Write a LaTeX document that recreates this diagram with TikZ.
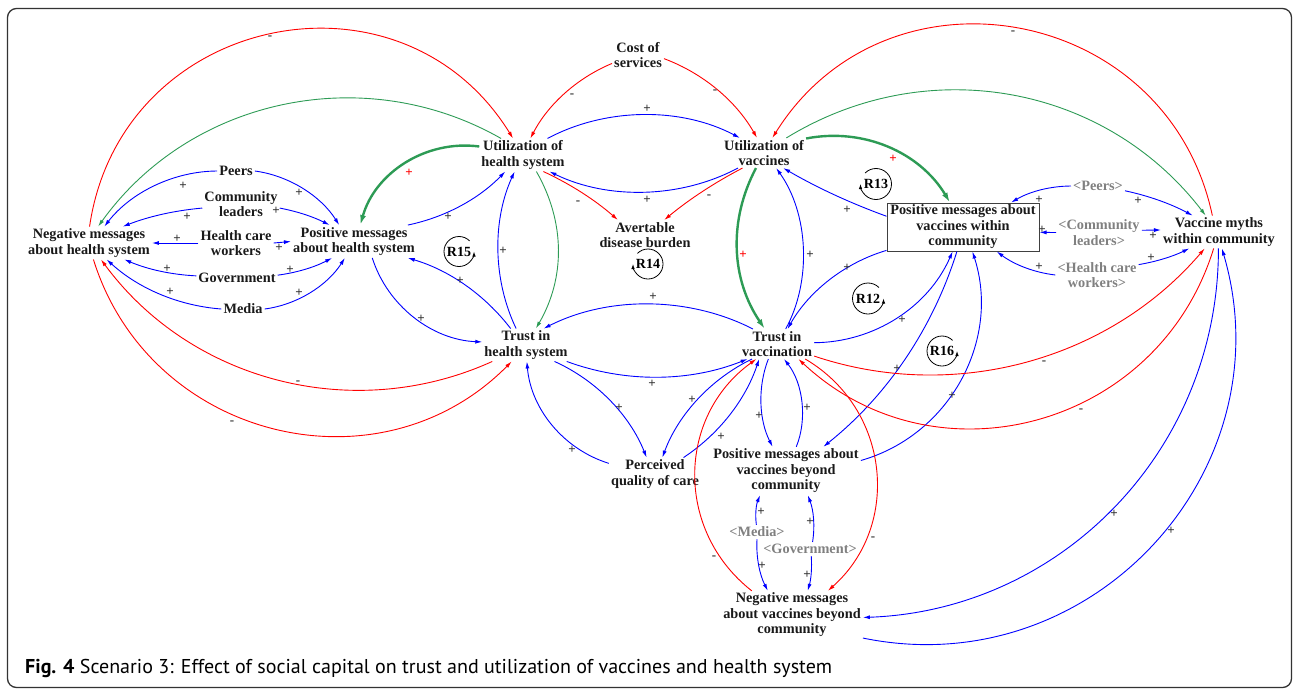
\documentclass[tikz,border=0pt]{standalone}
\usepackage{fontspec}
\usepackage{graphicx}
\setmainfont{Liberation Serif}
\newfontfamily\capfont{PT Sans}
\usetikzlibrary{arrows.meta}
\definecolor{cblue}{RGB}{0,0,255}
\definecolor{cred}{RGB}{255,0,0}
\definecolor{cgreen}{RGB}{45,155,85}
\definecolor{cgray}{RGB}{128,128,128}
\tikzset{
  var/.style={font=\bfseries\fontsize{14.3}{15.5}\selectfont, align=center, inner sep=2pt, text=black!90},
  gvar/.style={var, text=cgray},
  boxvar/.style={var, draw=black!75, line width=1pt, minimum width=152pt, minimum height=47pt},
  sg/.style={font=\bfseries\fontsize{13}{13}\selectfont, text=black!80, inner sep=0pt},
  rsg/.style={sg, text=cred},
  rlab/.style={font=\bfseries\fontsize{14}{14}\selectfont, inner sep=0pt},
  bl/.style={cblue, line width=0.9pt, -{Latex[length=7pt,width=4pt]}, looseness=0.88},
  rd/.style={cred, line width=0.9pt, -{Latex[length=7pt,width=4pt]}, looseness=0.88},
  gr/.style={cgreen, line width=0.9pt, -{Latex[length=7pt,width=4pt]}, looseness=0.95},
  grt/.style={cgreen, line width=2.4pt, -{Latex[length=10pt,width=6pt]}, looseness=0.95},
  loopar/.style={black, line width=0.8pt, -{Latex[length=5pt,width=3.5pt]}},
}
\begin{document}
\begin{tikzpicture}[x=1pt,y=1pt]
\useasboundingbox (0,0) rectangle (1295,-689);
\draw[line width=1.3pt, black!80, rounded corners=9pt] (7.5,-8.5) rectangle (1291.5,-687.5);

% nodes
\node[var] (negHS) at (89,-243) {Negative messages\\about health system};
\node[var] (posHS) at (354,-241.5) {Positive messages\\about health system};
\node[var] (peers) at (236,-171) {Peers};
\node[var] (comm) at (241,-204) {Community\\leaders};
\node[var] (hcw) at (236,-243) {Health care\\workers};
\node[var] (gov) at (237,-278) {Government};
\node[var] (media) at (243,-309) {Media};
\node[var] (uhs) at (523,-155) {Utilization of\\health system};
\node[var] (cost) at (638,-55) {Cost of\\services};
\node[var] (uv) at (764,-153) {Utilization of\\vaccines};
\node[var] (adb) at (645,-235) {Avertable\\disease burden};
\node[var] (ths) at (526,-345) {Trust in\\health system};
\node[var] (tv) at (777,-344) {Trust in\\vaccination};
\node[var] (pqc) at (655,-474) {Perceived\\quality of care};
\node[var] (posvb) at (786,-471) {Positive messages about\\vaccines beyond\\community};
\node[var] (negvb) at (792,-615) {Negative messages\\about vaccines beyond\\community};
\node[boxvar] (posvc) at (963,-227) {Positive messages about\\vaccines within\\community};
\node[gvar] (gpeers) at (1098,-186) {<Peers>};
\node[gvar] (gcomm) at (1099,-232.5) {<Community\\leaders>};
\node[gvar] (ghcw) at (1097,-275) {<Health care\\workers>};
\node[var] (vm) at (1219,-232) {Vaccine myths\\within community};
\node[gvar] (gmedia) at (757,-532) {<Media>};
\node[gvar] (ggov) at (810,-549) {<Government>};

% left cluster
\draw[bl] (peers.180) to[bend right=26] (negHS.47);
\draw[bl] (peers.0) to[bend left=25] (posHS.132);
\draw[bl] (comm.186) to[bend right=8] (negHS.26);
\draw[bl] (comm.-6) to[bend left=8] (posHS.146);
\draw[bl] (hcw.180) -- (negHS.0);
\draw[bl] (hcw.0) -- (posHS.180);
\draw[bl] (gov.177) to[bend left=10] (negHS.-25);
\draw[bl] (gov.4) to[bend right=10] (posHS.217);
\draw[bl] (media.180) to[bend left=19] (negHS.-43);
\draw[bl] (media.0) to[bend right=25] (posHS.241);

% big left arcs
\draw[rd] (negHS.88) to[bend left=70, looseness=1.27] (uhs.121);
\draw[gr] (uhs.143) to[bend right=42, looseness=0.98] (negHS.61);
\draw[grt] (uhs.169) to[bend right=41, looseness=0.97] (posHS.69);
\draw[bl] (posHS.17) to[bend right=17] (uhs.223);
\draw[bl] (ths.133) to[bend right=18] (posHS.-17);
\draw[bl] (posHS.-42) to[bend right=35, looseness=0.93] (ths.176);
\draw[bl] (ths.121) to[bend left=25] (uhs.243);
\draw[gr] (uhs.-51) to[bend left=30] (ths.59);
\draw[rd] (ths.206) to[bend left=39, looseness=0.96] (negHS.-54);
\draw[rd] (negHS.-75) to[bend right=59, looseness=1.12] (ths.229);

% centre
\draw[rd] (cost.198) to[bend right=20] (uhs.66);
\draw[rd] (cost.-8) to[bend left=20] (uv.115);
\draw[bl] (uhs.34) to[bend left=28] (uv.148);
\draw[bl] (uv.210) to[bend left=27] (uhs.-32);
\draw[rd] (uhs.-39) to[bend left=8] (adb.151);
\draw[rd] (uv.215) to[bend right=6] (adb.38);
\draw[grt] (uv.242) to[bend right=31] (tv.129);
\draw[bl] (tv.60) to[bend right=32] (uv.-51);

% right
\draw[grt] (uv.19) to[bend left=35] (posvc.118);
\draw[bl] (posvc.172) to[bend left=5] (uv.-38);
\draw[bl] (posvc.197) to[bend right=22] (tv.55);
\draw[bl] (tv.2) to[bend right=33, looseness=0.93] (posvc.247);
\draw[bl] (posvc.256) to[bend left=17] (posvb.33);
\draw[bl] (posvb.8) to[bend right=46, looseness=1.0] (posvc.-69);
\draw[bl] (gpeers.180) to[bend right=15] (posvc.27);
\draw[bl] (gpeers.-10) to[bend left=8] (vm.148);
\draw[bl] (gcomm.180) -- (posvc.-4);
\draw[bl] (gcomm.3) -- (vm.178);
\draw[bl] (ghcw.180) to[bend left=15] (posvc.-36);
\draw[bl] (ghcw.14) to[bend right=8] (vm.209);
\draw[rd] (vm.112) to[bend right=68, looseness=1.24] (uv.61);
\draw[gr] (uv.34) to[bend left=42, looseness=0.99] (vm.129);
\draw[rd] (tv.-18) to[bend right=34, looseness=0.93] (vm.229);
\draw[rd] (vm.-108) to[bend left=58, looseness=1.12] (tv.-35);
\draw[bl] (vm.-92) to[bend left=44, looseness=1.0] (negvb.-2);
\draw[bl] (negvb.-18) to[bend right=59, looseness=1.12] (vm.-80);

% lower centre
\draw[bl] (ths.-22) to[bend right=21] (tv.207);
\draw[bl] (tv.148) to[bend right=27] (ths.43);
\draw[bl] (ths.-30) to[bend left=22] (pqc.117);
\draw[bl] (pqc.167) to[bend left=34, looseness=0.93] (ths.-87);
\draw[bl] (tv.211) to[bend right=22] (pqc.66);
\draw[bl] (pqc.30) to[bend right=19] (tv.220);
\draw[bl] (tv.240) to[bend right=24] (posvb.119);
\draw[bl] (posvb.67) to[bend right=30] (tv.-65);
\draw[rd] (negvb.149) to[bend left=53, looseness=1.08] (tv.216);
\draw[rd] (tv.-28) to[bend left=54, looseness=1.08] (negvb.34);
\draw[bl] (gmedia.95) to[bend left=15] (posvb.223);
\draw[bl] (gmedia.-90) to[bend right=15] (negvb.135);
\draw[bl] (ggov.70) to[bend right=15] (posvb.-48);
\draw[bl] (ggov.-80) to[bend left=10] (negvb.57);

% loop markers
\node[rlab] (r13) at (876,-184) {R13};
\draw[loopar] (r13.center) ++(135:15.5) arc[start angle=135, end angle=-180, radius=15.5];
\node[rlab] (r14) at (648,-264) {R14};
\draw[loopar] (r14.center) ++(135:15) arc[start angle=135, end angle=-180, radius=15];
\node[rlab] (r15) at (459,-251.5) {R15};
\draw[loopar] (r15.center) ++(45:15) arc[start angle=45, end angle=360, radius=15];
\node[rlab] (r12) at (868,-298.5) {R12};
\draw[loopar] (r12.center) ++(45:15.5) arc[start angle=45, end angle=360, radius=15.5];
\node[rlab] (r16) at (942,-351) {R16};
\draw[loopar] (r16.center) ++(45:15) arc[start angle=45, end angle=360, radius=15];

% polarity signs
\node[sg] (s1) at (183,-186) {+};
\node[sg] (s2) at (299,-193) {+};
\node[sg] (s3) at (187,-217) {+};
\node[sg] (s4) at (276,-211) {+};
\node[sg] (s5) at (177,-239) {+};
\node[sg] (s6) at (279,-248) {+};
\node[sg] (s7) at (167,-269) {+};
\node[sg] (s8) at (290,-270) {+};
\node[sg] (s9) at (170,-292) {+};
\node[sg] (s10) at (299,-293) {+};
\node[sg] (s11) at (270,-38) {-};
\node[rsg] (s13) at (409,-173) {+};
\node[sg] (s14) at (448,-217) {+};
\node[sg] (s15) at (460,-281) {+};
\node[sg] (s16) at (421,-319) {+};
\node[sg] (s17) at (503,-251) {+};
\node[sg] (s19a) at (298,-383) {-};
\node[sg] (s19b) at (232,-423) {-};
\node[sg] (s20) at (572,-96) {-};
\node[sg] (s21) at (715,-92) {-};
\node[sg] (s22) at (647,-109) {+};
\node[sg] (s23) at (647,-200) {+};
\node[sg] (s24) at (578,-203) {-};
\node[sg] (s25) at (709,-197) {-};
\node[rsg] (s26) at (743,-255) {+};
\node[sg] (s27) at (810,-255) {+};
\node[rsg] (s28) at (893,-159) {+};
\node[sg] (s29) at (847,-210) {+};
\node[sg] (s30) at (847,-268) {+};
\node[sg] (s31) at (902,-320) {+};
\node[sg] (s32) at (897,-369) {+};
\node[sg] (s33) at (952,-396) {+};
\node[sg] (s34) at (1039,-200) {+};
\node[sg] (s35) at (1138,-201) {+};
\node[sg] (s36) at (1042,-230) {+};
\node[sg] (s37) at (1153,-236) {+};
\node[sg] (s38) at (1039,-267) {+};
\node[sg] (s39) at (1151,-258) {+};
\node[sg] (s40) at (1013,-33) {-};
\node[sg] (s42a) at (1044,-363) {-};
\node[sg] (s42b) at (1081,-411) {-};
\node[sg] (s43) at (1114,-514) {+};
\node[sg] (s44) at (1171,-531) {+};
\node[sg] (s45) at (652,-384) {+};
\node[sg] (s46) at (653,-297) {+};
\node[sg] (s47) at (619,-408) {+};
\node[sg] (s48) at (572,-450) {+};
\node[sg] (s49) at (692,-400) {+};
\node[sg] (s50) at (721,-437) {+};
\node[sg] (s51) at (759,-416) {+};
\node[sg] (s52) at (807,-408) {+};
\node[sg] (s53) at (714,-558) {-};
\node[sg] (s54) at (873,-539) {-};
\node[sg] (s55) at (761,-512) {+};
\node[sg] (s56) at (762,-566) {+};
\node[sg] (s57) at (810,-522) {+};
\node[sg] (s58) at (807,-575) {+};

% caption
\node[anchor=west, inner sep=0pt] (cap) at (25,-668) {\resizebox{807pt}{!}{\capfont\fontsize{16}{18}\selectfont\textbf{Fig. 4} Scenario 3: Effect of social capital on trust and utilization of vaccines and health system}};
\end{tikzpicture}
\end{document}
